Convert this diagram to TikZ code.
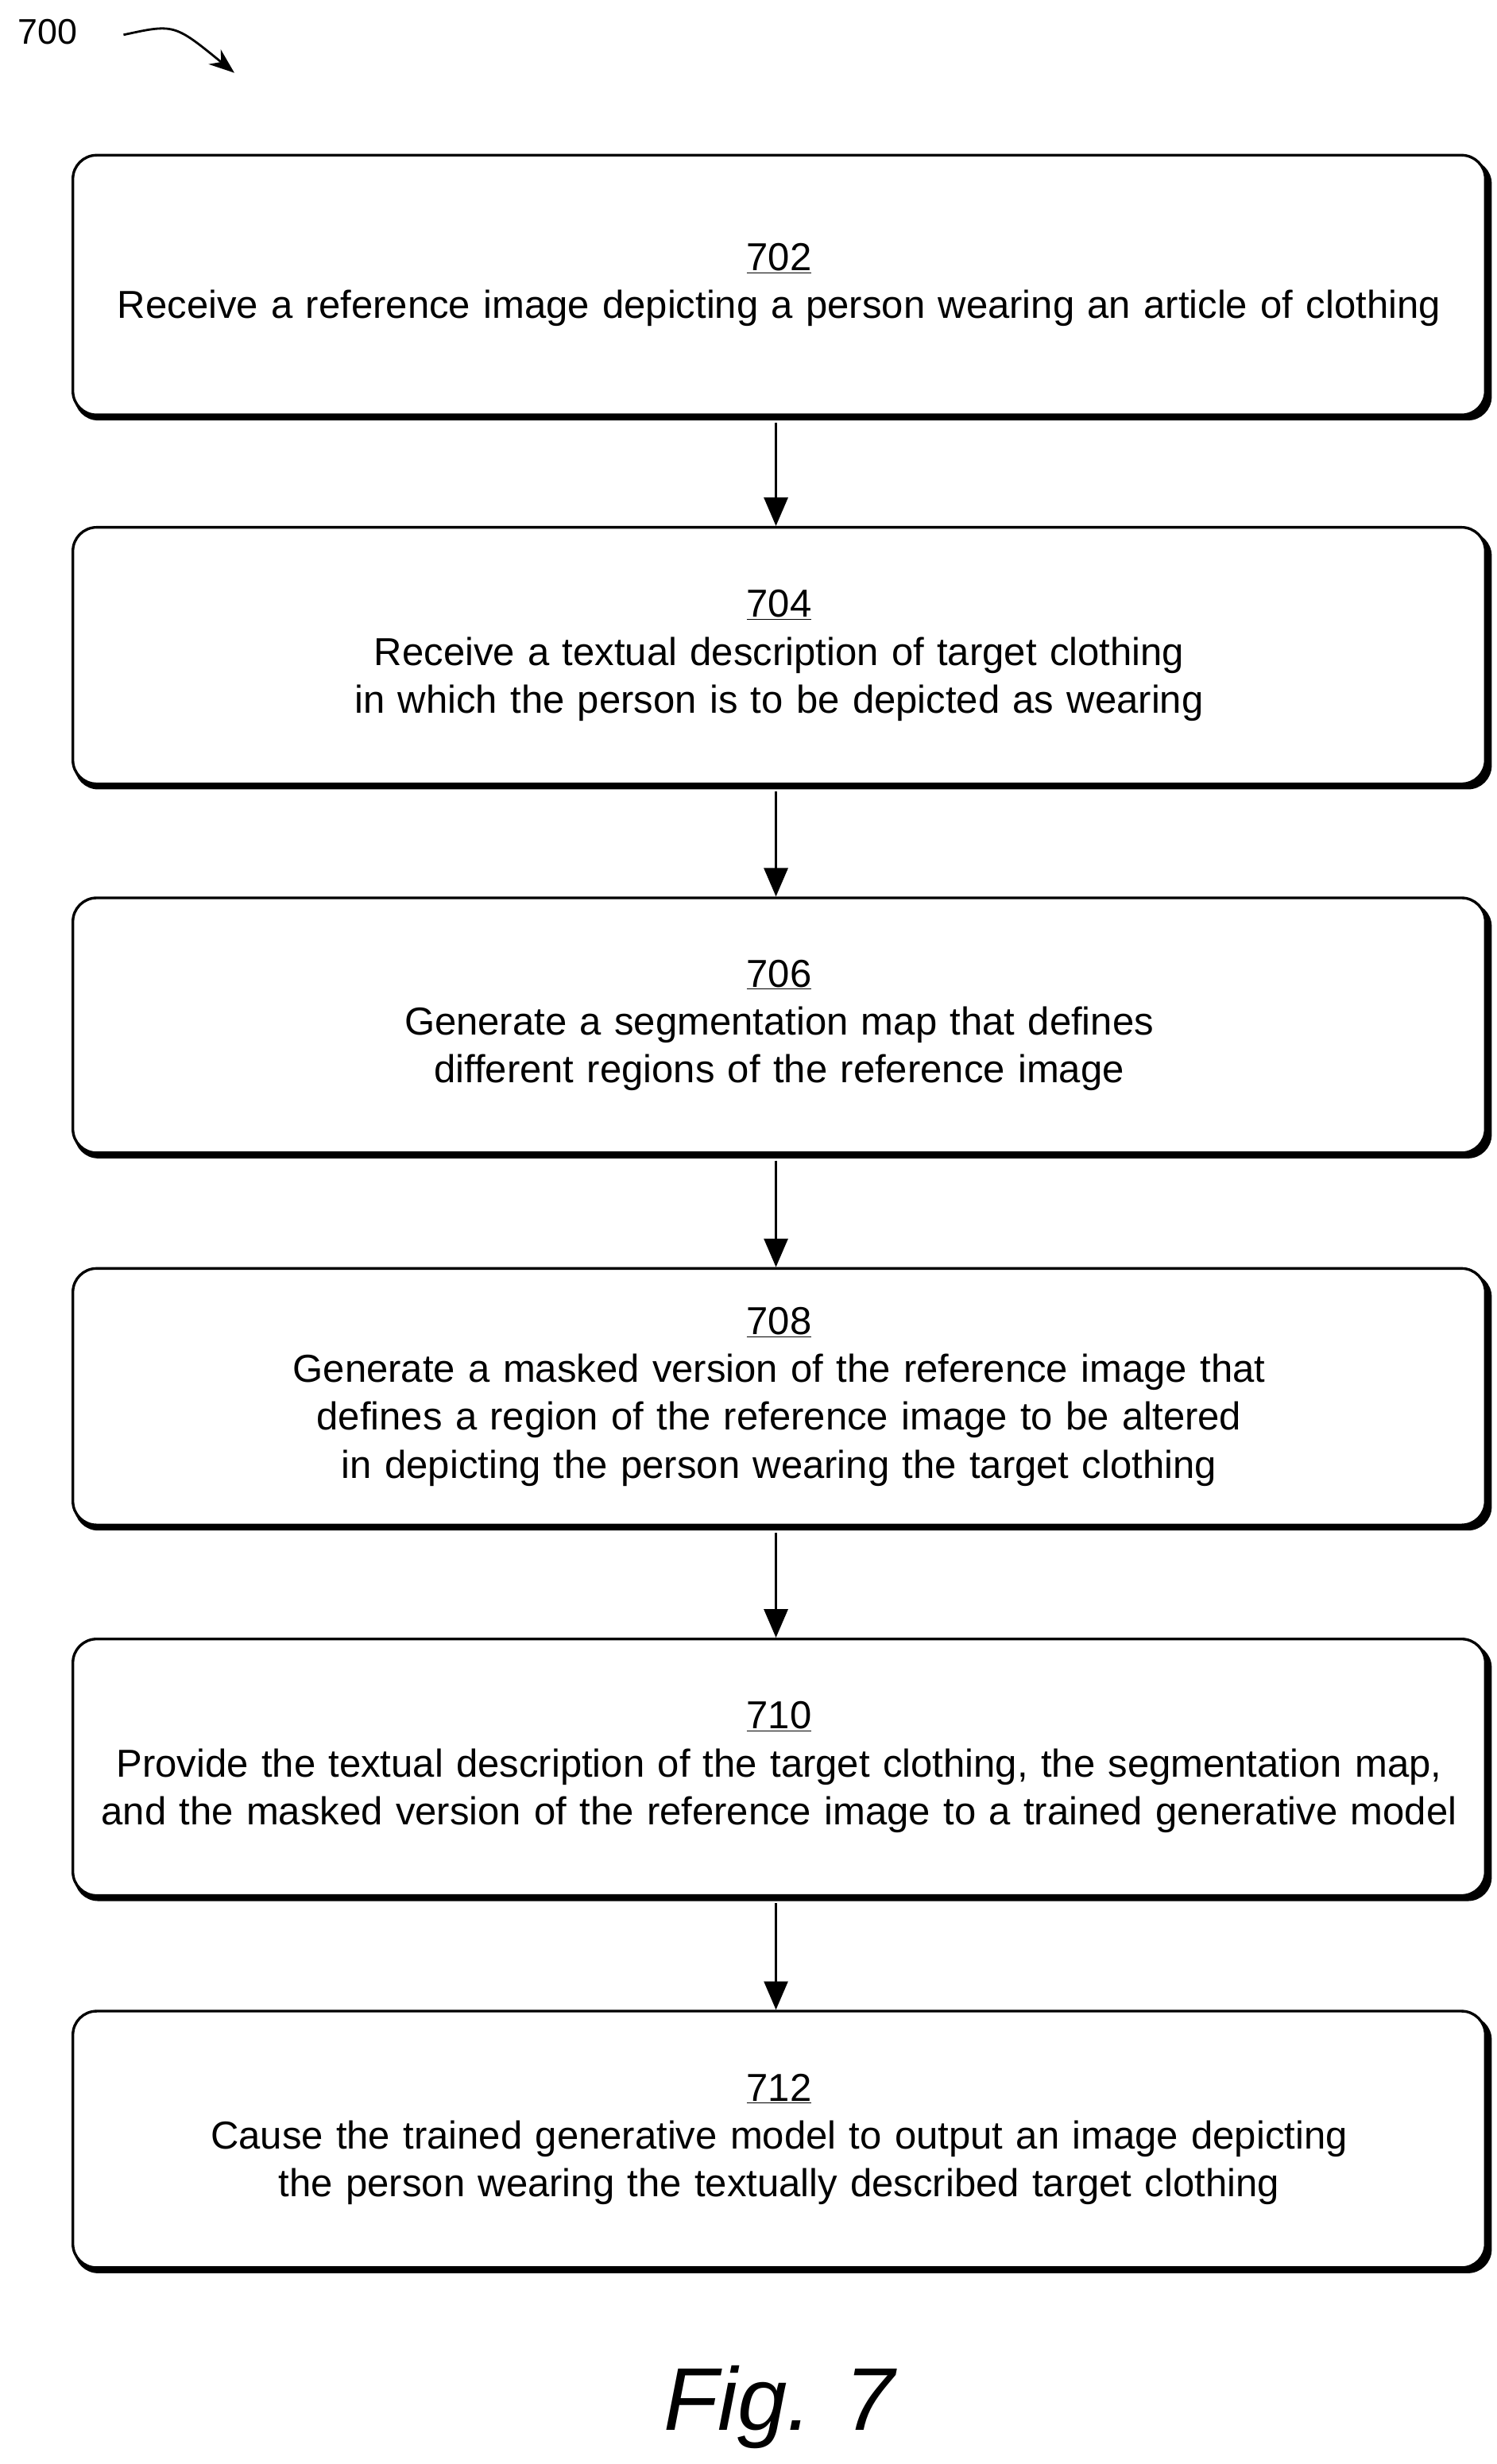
\documentclass[tikz,border=0pt]{standalone}
\usepackage{fontspec}
\setmainfont{Liberation Sans}
\usetikzlibrary{arrows.meta}
\hyphenpenalty=10000
\exhyphenpenalty=10000
\begin{document}
\begin{tikzpicture}[x=0.05cm,y=-0.05cm,
  stepbox/.style={draw,line width=2.4pt,rounded corners=0.75cm,fill=white,minimum width=44.6cm,inner xsep=0pt,align=center,font=\fontsize{35}{43}\selectfont,text width=44.2cm},
  shadowbox/.style={fill=black,rounded corners=0.75cm},
  flow/.style={line width=2.4pt,-{Triangle[length=0.9cm,width=0.75cm]}}]
\useasboundingbox (0,0) rectangle (945,1556);
\foreach \t/\b in {98/262,333/495,567/728,801/963,1035/1197,1270/1432}{
  \fill[shadowbox] (47,\t+3) rectangle (942,\b+3.5);
}
\node[stepbox,minimum height=8.2cm] (a) at (492,180) {\underline{702}\\Receive a reference image depicting a person wearing an article of clothing};
\node[stepbox,minimum height=8.1cm] (b) at (492,414) {\underline{704}\\Receive a textual description of target clothing in which the person is to be depicted as wearing};
\node[stepbox,minimum height=8.05cm] (c) at (492,647.5) {\underline{706}\\Generate a segmentation map that defines different regions of the reference image};
\node[stepbox,minimum height=8.1cm] (d) at (492,882) {\underline{708}\\Generate a masked version of the reference image that defines a region of the reference image to be altered in depicting the person wearing the target clothing};
\node[stepbox,minimum height=8.1cm] (e) at (492,1116) {\underline{710}\\Provide the textual description of the target clothing, the segmentation map, and the masked version of the reference image to a trained generative model};
\node[stepbox,minimum height=8.1cm] (f) at (492,1351) {\underline{712}\\Cause the trained generative model to output an image depicting the person wearing the textually described target clothing};
\foreach \u/\v in {a/b,b/c,c/d,d/e,e/f}{
  \draw[flow] ([xshift=-0.1cm,yshift=-0.2cm]\u.south) -- ([xshift=-0.1cm]\v.north);
}
\node[font=\fontsize{32}{36}\selectfont] (n) at (30,20) {700};
\coordinate (s) at (78,22);
\coordinate (t) at (148,46);
\draw[line width=2pt,-{Stealth[length=0.8cm,width=0.6cm]}] (s) .. controls (110,15) .. (t);
\node[font=\fontsize{80}{90}\selectfont\itshape] (fig) at (492,1520) {Fig. 7};
\end{tikzpicture}
\end{document}
